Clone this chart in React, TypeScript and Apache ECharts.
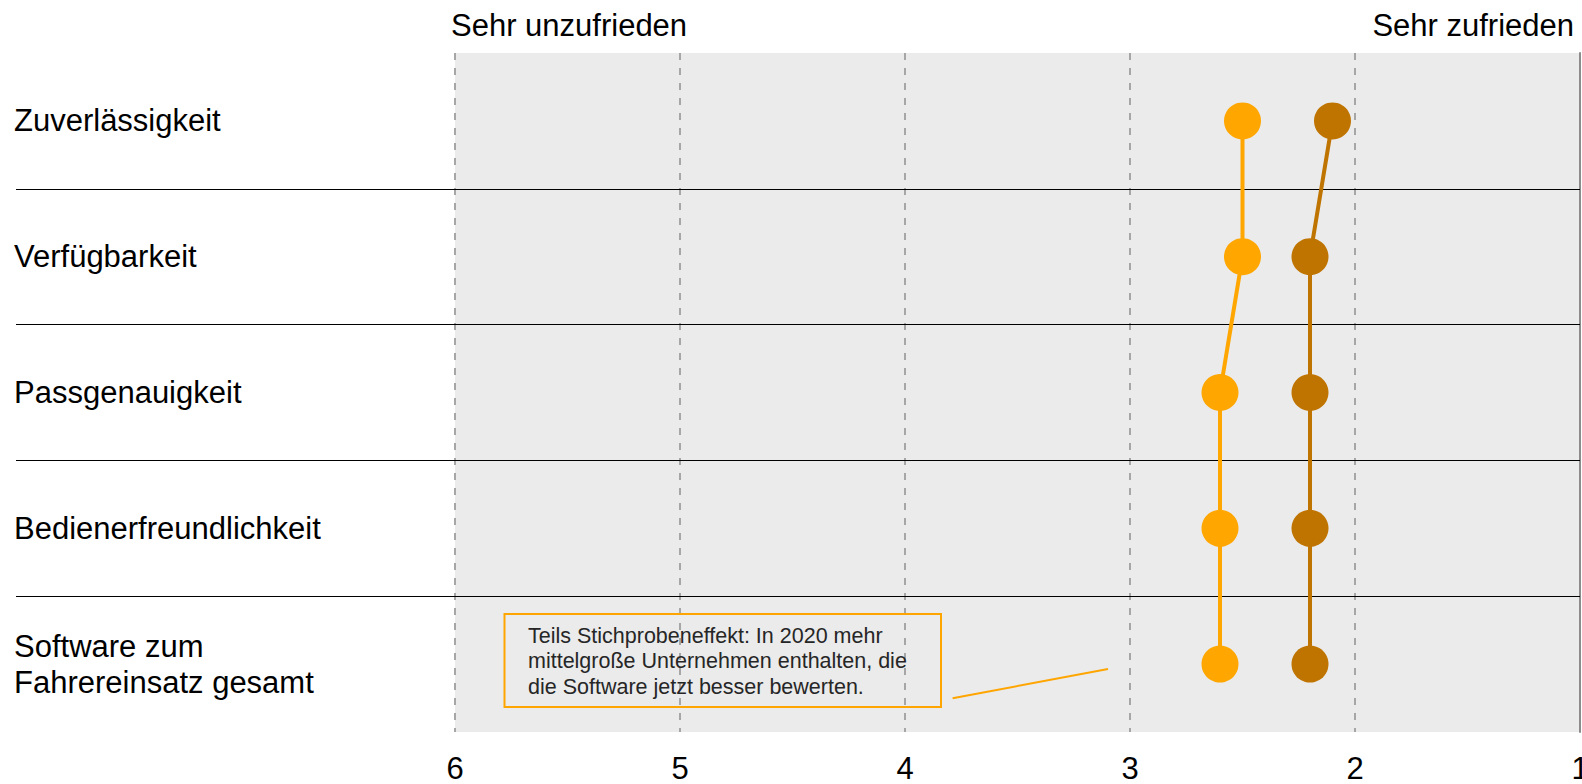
import React, { useEffect, useRef } from "react";
import * as echarts from "echarts";

const categories = [
  "Zuverlässigkeit",
  "Verfügbarkeit",
  "Passgenauigkeit",
  "Bedienerfreundlichkeit",
  "Software zum\nFahrereinsatz gesamt",
];
const valuesLight = [2.5, 2.5, 2.6, 2.6, 2.6];
const valuesDark = [2.1, 2.2, 2.2, 2.2, 2.2];
const scaleMin = 1;
const scaleMax = 6;
const scaleStep = 1;
const scaleLeftLabel = "Sehr unzufrieden";
const scaleRightLabel = "Sehr zufrieden";
const annotationText =
  "Teils Stichprobeneffekt: In 2020 mehr\nmittelgroße Unternehmen enthalten, die\ndie Software jetzt besser bewerten.";

const FONT = "'Liberation Sans', Arial, sans-serif";
const LIGHT = "#FFA600";
const DARK = "#C07400";

export default function App() {
  const ref = useRef<HTMLDivElement>(null);

  useEffect(() => {
    if (!ref.current) return;
    const chart = echarts.init(ref.current, undefined, { renderer: "svg" });
    const option: any = {
      animation: false,
      backgroundColor: "#FFFFFF",
      textStyle: { fontFamily: FONT },
      title: [
        {
          text: scaleLeftLabel,
          left: 451,
          top: 10,
          padding: 0,
          textStyle: { fontSize: 31, fontWeight: "normal", color: "#000", fontFamily: FONT },
        },
        {
          text: scaleRightLabel,
          right: 8,
          top: 10,
          padding: 0,
          textStyle: { fontSize: 31, fontWeight: "normal", color: "#000", fontFamily: FONT },
        },
      ],
      grid: [
        {
          left: 455,
          right: 2,
          top: 53,
          bottom: 52,
          show: true,
          backgroundColor: "#EBEBEB",
          borderWidth: 0,
          containLabel: false,
          outerBoundsMode: "none",
        },
        {
          left: 16,
          right: 2,
          top: 53,
          bottom: 52,
          show: false,
          containLabel: false,
          outerBoundsMode: "none",
        },
      ],
      xAxis: [
        {
          type: "value",
          gridIndex: 0,
          inverse: true,
          min: scaleMin,
          max: scaleMax,
          interval: scaleStep,
          axisLine: { show: false },
          axisTick: { show: false },
          axisLabel: { fontSize: 31, color: "#000", margin: 21, fontFamily: FONT },
          splitLine: {
            show: true,
            showMinLine: false,
            lineStyle: { color: "#A6A6A6", width: 2, type: [7, 8] },
          },
        },
        {
          type: "value",
          gridIndex: 1,
          show: false,
          min: 0,
          max: 1,
        },
      ],
      yAxis: [
        {
          type: "category",
          gridIndex: 0,
          data: categories,
          inverse: true,
          position: "right",
          axisLine: { show: true, lineStyle: { color: "#8C8C8C", width: 2 } },
          axisTick: { show: false },
          axisLabel: { show: false },
          splitLine: { show: false },
        },
        {
          type: "category",
          gridIndex: 1,
          data: categories,
          inverse: true,
          z: 3,
          axisLine: { show: false },
          axisTick: { show: false },
          axisLabel: {
            show: true,
            align: "left",
            margin: 2,
            fontSize: 31,
            lineHeight: 36,
            color: "#000",
            fontFamily: FONT,
          },
          splitLine: {
            show: true,
            showMinLine: false,
            showMaxLine: false,
            lineStyle: { color: "#000", width: 1 },
          },
        },
      ],
      series: [
        {
          name: "Vorjahr",
          type: "line",
          xAxisIndex: 0,
          yAxisIndex: 0,
          data: valuesLight.map((v, i) => [v, i]),
          symbol: "circle",
          symbolSize: 37,
          itemStyle: { color: LIGHT },
          lineStyle: { color: LIGHT, width: 4 },
          z: 5,
        },
        {
          name: "2020",
          type: "line",
          xAxisIndex: 0,
          yAxisIndex: 0,
          data: valuesDark.map((v, i) => [v, i]),
          symbol: "circle",
          symbolSize: 37,
          itemStyle: { color: DARK },
          lineStyle: { color: DARK, width: 4 },
          z: 5,
        },
      ],
      graphic: [
        {
          type: "rect",
          z: 10,
          shape: { x: 504.5, y: 614, width: 436.5, height: 93 },
          style: { fill: "rgba(0,0,0,0)", stroke: "#FFA500", lineWidth: 2 },
        },
        {
          type: "text",
          z: 10,
          x: 528,
          y: 623,
          style: {
            text: annotationText,
            fontSize: 21.5,
            fontFamily: FONT,
            lineHeight: 25.5,
            fill: "#262626",
            verticalAlign: "top",
            align: "left",
          },
        },
        {
          type: "line",
          z: 10,
          shape: { x1: 952.6, y1: 698.3, x2: 1108, y2: 669 },
          style: { stroke: "#FFA500", lineWidth: 2 },
        },
      ],
    };
    chart.setOption(option);
    return () => chart.dispose();
  }, []);

  return (
    <div
      ref={ref}
      style={{ position: "absolute", left: 0, top: 0, width: 1582, height: 784 }}
    />
  );
}
